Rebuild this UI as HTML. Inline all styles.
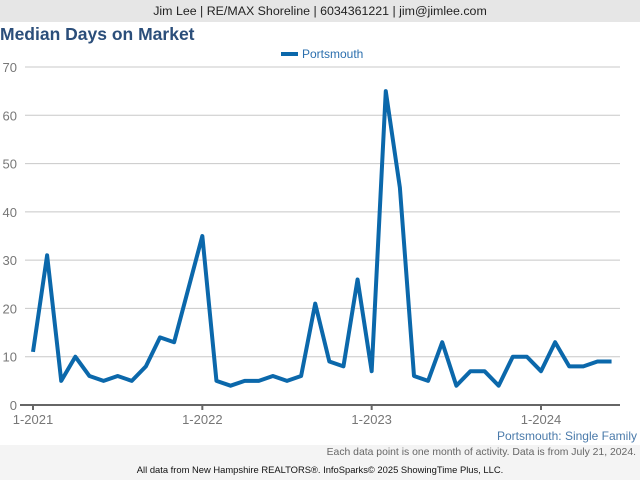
<!DOCTYPE html>
<html><head><meta charset="utf-8"><style>
body{margin:0;width:640px;height:480px;background:#f4f4f4;font-family:"Liberation Sans",sans-serif;overflow:hidden;position:relative}
#hdr{position:absolute;left:0;top:0;width:640px;height:22px;background:#e6e6e6;text-align:center;font-size:12.4px;line-height:22px;color:#222}
#main{position:absolute;left:0;top:22px;width:640px;height:423px;background:#fff}
</style></head><body>
<div id="hdr">Jim Lee | RE/MAX Shoreline | 6034361221 | jim@jimlee.com</div>
<div id="main"></div>
<svg id="chart" width="640" height="480" style="position:absolute;left:0;top:0"></svg>
<script>
const months=["1-2021","2-2021","3-2021","4-2021","5-2021","6-2021","7-2021","8-2021","9-2021","10-2021","11-2021","12-2021","1-2022","2-2022","3-2022","4-2022","5-2022","6-2022","7-2022","8-2022","9-2022","10-2022","11-2022","12-2022","1-2023","2-2023","3-2023","4-2023","5-2023","6-2023","7-2023","8-2023","9-2023","10-2023","11-2023","12-2023","1-2024","2-2024","3-2024","4-2024","5-2024","6-2024"];
const values=[11,31,5,10,6,5,6,5,8,14,13,24,35,5,4,5,5,6,5,6,21,9,8,26,7,65,45,6,5,13,4,7,7,4,10,10,7,13,8,8,9,9];
const yTicks=[0,10,20,30,40,50,60,70];
const xTickLabels=["1-2021","1-2022","1-2023","1-2024"];
const NS="http://www.w3.org/2000/svg";
const svg=document.getElementById('chart');
const x=i=>33+i*(508/36);
const y=v=>405-v*(338/70);
function mk(t,a,txt){const e=document.createElementNS(NS,t);for(const k in a)e.setAttribute(k,a[k]);if(txt!==undefined)e.textContent=txt;svg.appendChild(e);return e;}
let e;
e=mk('text',{x:0,y:40,'font-size':17.5,'font-weight':'bold',fill:'#2b4e7a'},'Median Days on Market');


yTicks.forEach(t=>{
 if(t>0){e=mk('line',{x1:25,x2:620,y1:y(t),y2:y(t),stroke:'#c8c8c8','stroke-width':1});
 
 }
 e=mk('text',{x:17,y:y(t)+5,'font-size':13,fill:'#777','text-anchor':'end'},t);
 
 
});
e=mk('line',{x1:20,x2:620,y1:405,y2:405,stroke:'#666','stroke-width':2});


xTickLabels.forEach(l=>{const i=months.indexOf(l);
 e=mk('line',{x1:x(i),x2:x(i),y1:405,y2:410,stroke:'#666','stroke-width':2});
 
 
 e=mk('text',{x:x(i),y:424,'font-size':13,fill:'#777','text-anchor':'middle'},l);
 
 
});
e=mk('polyline',{points:values.map((v,i)=>x(i)+','+y(v)).join(' '),fill:'none',stroke:'#0b68ab','stroke-width':4,'stroke-linejoin':'round'});


e=mk('line',{x1:281,x2:298,y1:54,y2:54,stroke:'#0b68ab','stroke-width':4});


e=mk('text',{x:302,y:58,'font-size':12,fill:'#2b6fae'},'Portsmouth');


e=mk('text',{x:637,y:440,'font-size':12,fill:'#4a7aaa','text-anchor':'end'},'Portsmouth: Single Family');


e=mk('text',{x:636,y:455,'font-size':10.4,fill:'#666','text-anchor':'end'},'Each data point is one month of activity. Data is from July 21, 2024.');


e=mk('text',{x:320,y:473,'font-size':9.4,fill:'#111','text-anchor':'middle'},'All data from New Hampshire REALTORS®. InfoSparks© 2025 ShowingTime Plus, LLC.');


</script>
</body></html>
